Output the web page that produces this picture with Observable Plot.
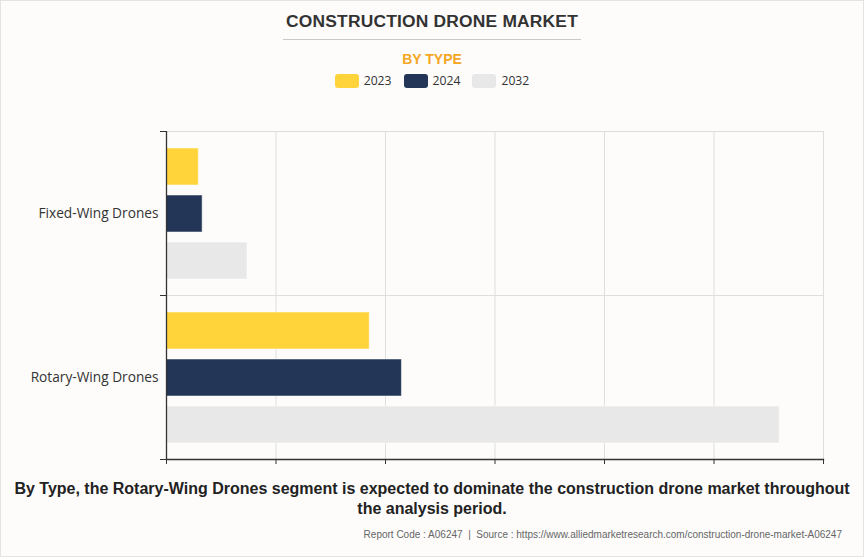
<!DOCTYPE html>
<html>
<head>
<meta charset="utf-8">
<script src="https://cdn.jsdelivr.net/npm/d3@7"></script>
<script src="https://cdn.jsdelivr.net/npm/@observablehq/plot@0.6"></script>
<style>
  html, body { margin: 0; padding: 0; background: #fff; }
  #wrap {
    box-sizing: border-box; width: 864px; height: 557px;
    border: 1px solid #e4e4e4; background: #fdfcfb; position: relative;
    font-family: "Liberation Sans", Arial, sans-serif;
  }
  #title-row { text-align: center; padding-top: 10px; }
  #title {
    display: inline-block; font-weight: bold; font-size: 17.4px; color: #333;
    padding: 0 3px 7px 3px; border-bottom: 1px solid #c8c8c8; letter-spacing: 0.2px;
  }
  #subtitle { text-align: center; color: #F5A623; font-weight: bold; font-size: 14px; margin-top: 11px; }
  #legend { display: flex; justify-content: center; gap: 12px; margin-top: 5px; font-family: "Open Sans", sans-serif; font-size: 12.2px; color: #333; }
  .item { display: flex; align-items: center; gap: 5px; }
  .sw { width: 24px; height: 14px; border-radius: 3px; display: inline-block; }
  #chart { position: absolute; left: 0; top: 98px; }
  #caption {
    position: absolute; left: 10px; right: 10px; top: 478px; text-align: center;
    font-weight: bold; font-size: 16px; color: #222; line-height: 20px;
  }
  #footer {
    position: absolute; right: 21px; top: 528px; font-size: 10px; color: #666;
  }
</style>
</head>
<body>
<div id="wrap">
  <div id="title-row"><span id="title">CONSTRUCTION DRONE MARKET</span></div>
  <div id="subtitle">BY TYPE</div>
  <div id="legend"></div>
  <div id="chart"></div>
  <div id="caption">By Type, the Rotary-Wing Drones segment is expected to dominate the construction drone market throughout the analysis period.</div>
  <div id="footer">Report Code : A06247&nbsp; | &nbsp;Source : https://www.alliedmarketresearch.com/construction-drone-market-A06247</div>
</div>
<script>
const categories = ["Fixed-Wing Drones", "Rotary-Wing Drones"];
const years = ["2023", "2024", "2032"];
const colors = ["#FFD43B", "#243657", "#E8E8E8"];
const values2023 = [0.295, 1.856];
const values2024 = [0.33, 2.15];
const values2032 = [0.74, 5.6];
const xTicks = [0, 1, 2, 3, 4, 5, 6];

const series = [values2023, values2024, values2032];
const data = [];
categories.forEach((c, i) => years.forEach((y, j) => data.push({category: c, year: y, value: series[j][i]})));

// legend
const legend = document.getElementById("legend");
years.forEach((y, j) => {
  const it = document.createElement("div");
  it.className = "item";
  it.innerHTML = `<span class="sw" style="background:${colors[j]}"></span><span>${y}</span>`;
  legend.appendChild(it);
});

const W = 862, mL = 165, mR = 40;
const plot = Plot.plot({
  width: W,
  height: 371,
  marginLeft: mL,
  marginRight: mR,
  marginTop: 31,
  marginBottom: 11,
  style: {background: "transparent", fontFamily: "'Open Sans', sans-serif", fontSize: "13.7px", color: "#333"},
  x: {domain: [0, 6], ticks: xTicks, label: null},
  fy: {domain: categories, padding: 0, label: null},
  y: {domain: years, paddingInner: 0.22, paddingOuter: 0.34, axis: null},
  color: {domain: years, range: colors},
  marks: [
    Plot.gridX(xTicks, {stroke: "#dedede", strokeOpacity: 1}),
    Plot.frame({stroke: "#dedede"}),
    Plot.barX(data, {fy: "category", y: "year", x: "value", fill: "year", stroke: "#ffffff", strokeOpacity: 0.5, strokeWidth: 1}),
    Plot.ruleX([0], {stroke: "#333", strokeWidth: 1.3}),
    Plot.frame({anchor: "top", stroke: "#333", insetLeft: -6, insetRight: W - mL - mR}),
    Plot.frame({anchor: "bottom", stroke: "#333", insetLeft: -6, insetRight: W - mL - mR}),
    Plot.frame({anchor: "bottom", stroke: "#333", strokeWidth: 1.3, facetAnchor: "bottom"}),
    Plot.axisX(xTicks, {anchor: "bottom", tickSize: 5, tickFormat: () => "", stroke: "#333", label: null, facetAnchor: "bottom"}),
    Plot.axisFy({anchor: "left", tickSize: 0, tickPadding: 8, label: null, fill: "#333", fontSize: 13.7})
  ]
});
document.getElementById("chart").appendChild(plot);
</script>
</body>
</html>
